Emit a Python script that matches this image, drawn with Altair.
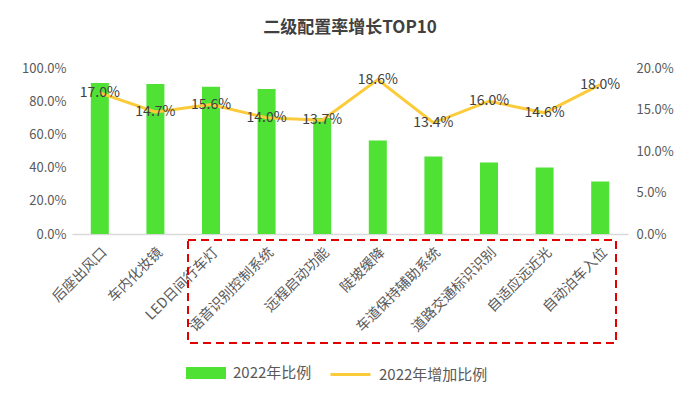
import altair as alt
import pandas as pd

categories = ["后座出风口", "车内化妆镜", "LED日间行车灯", "语音识别控制系统", "远程启动功能",
              "陡坡缓降", "车道保持辅助系统", "道路交通标识识别", "自适应远近光", "自动泊车入位"]
ratio_2022 = [0.910, 0.904, 0.887, 0.874, 0.699, 0.563, 0.467, 0.431, 0.401, 0.317]
increase_2022 = [0.170, 0.147, 0.156, 0.140, 0.137, 0.186, 0.134, 0.160, 0.146, 0.180]
left_ticks = [0, 0.2, 0.4, 0.6, 0.8, 1.0]
right_ticks = [0, 0.05, 0.10, 0.15, 0.20]

FONT = "Noto Sans CJK SC"
GREY = "#595959"

df = pd.DataFrame({
    "cat": categories,
    "ratio": ratio_2022,
    "inc": increase_2022,
    "s1": ["2022年比例"] * len(categories),
    "s2": ["2022年增加比例"] * len(categories),
})

xenc = alt.X("cat:N", sort=categories, title=None,
             scale=alt.Scale(paddingInner=0.68, paddingOuter=0.34),
             axis=alt.Axis(labelAngle=-45, labelFontSize=14, labelColor=GREY, labelFont=FONT,
                           ticks=False, domainColor="#d9d9d9", domainWidth=1.5, labelPadding=11))

bars = alt.Chart(df).mark_bar(size=18).encode(
    x=xenc,
    y=alt.Y("ratio:Q", title=None, scale=alt.Scale(domain=[0, 1]),
            axis=alt.Axis(values=left_ticks, format=".1%", grid=False, domain=False, ticks=False,
                          labelFontSize=13, labelColor=GREY, labelFont=FONT, labelPadding=6)),
    color=alt.Color("s1:N", title=None,
                    scale=alt.Scale(domain=["2022年比例"], range=["#4FE235"]),
                    legend=alt.Legend(orient="none", legendX=114, legendY=285,
                                      symbolType="M-1,-0.3H1V0.3H-1Z", symbolSize=1600,
                                      symbolStrokeWidth=0, labelFontSize=15, labelColor=GREY,
                                      labelFont=FONT, symbolOpacity=1, labelOffset=7)),
)

yr = alt.Y("inc:Q", title=None, scale=alt.Scale(domain=[0, 0.2]),
           axis=alt.Axis(orient="right", values=right_ticks, format=".1%", grid=False, domain=False,
                         ticks=False, labelFontSize=13, labelColor=GREY, labelFont=FONT, labelPadding=8))

line = alt.Chart(df).mark_line(strokeWidth=3).encode(
    x=alt.X("cat:N", sort=categories),
    y=yr,
    stroke=alt.Stroke("s2:N", title=None,
                      scale=alt.Scale(domain=["2022年增加比例"], range=["#FCCB3A"]),
                      legend=alt.Legend(orient="none", legendX=257, legendY=285,
                                        symbolType="stroke", symbolSize=1600, symbolStrokeWidth=3,
                                        labelFontSize=15, labelColor=GREY, labelFont=FONT,
                                        labelOffset=7)),
)

labels = alt.Chart(df).mark_text(fontSize=14, color="#404040", font=FONT).encode(
    x=alt.X("cat:N", sort=categories),
    y=yr,
    text=alt.Text("inc:Q", format=".1%"),
)

box = alt.Chart(pd.DataFrame({"a": [0]})).mark_rect(
    fill=None, fillOpacity=0, stroke="#E00000", strokeWidth=2, strokeDash=[8, 5]
).encode(x=alt.value(116), x2=alt.value(544), y=alt.value(172), y2=alt.value(275))

right = alt.layer(line, labels)

chart = alt.layer(bars, right, box).resolve_scale(y="independent", color="independent").properties(
    width=556, height=166,
    autosize=alt.AutoSizeParams(type="none"),
    padding={"left": 64, "top": 60, "right": 56, "bottom": 159},
    title=alt.TitleParams("二级配置率增长TOP10", fontSize=17, font=FONT, fontWeight="bold",
                          color="#404040", anchor="middle", offset=25),
).configure_view(stroke=None)

chart.save("out.html", embed_options={"renderer": "svg", "actions": False})
